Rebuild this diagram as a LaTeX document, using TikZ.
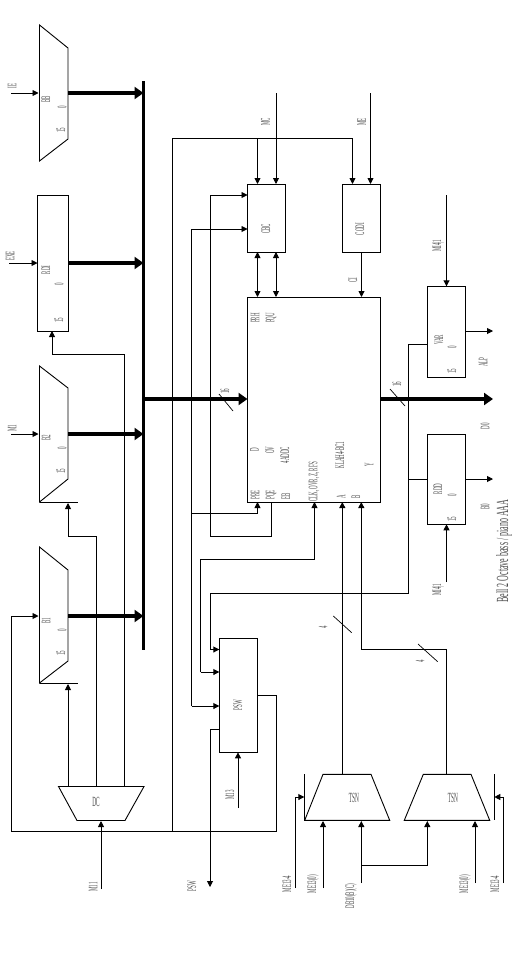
\documentclass[tikz,border=0pt]{standalone}
\usepackage{fontspec}
\setmainfont{Liberation Serif}
\usetikzlibrary{arrows.meta}
\newcommand{\nrw}[1]{\scalebox{0.38}[1]{#1}}
\tikzset{
  ln/.style={line width=0.9pt,line join=miter},
  arr/.style={ln,-{Triangle[length=6pt,width=6pt]}},
  darr/.style={ln,{Triangle[length=6pt,width=6pt]}-{Triangle[length=6pt,width=6pt]}},
  bus/.style={line width=3.4pt},
  busarr/.style={line width=3.2pt,-{Triangle[length=9pt,width=12pt,sep=0pt]}},
  slash/.style={line width=0.7pt},
  box/.style={draw,line width=0.9pt,inner sep=0pt,outer sep=0pt},
  rl/.style={rotate=90,inner sep=0pt,text=black!70,font=\fontsize{13}{13}\selectfont},
  ul/.style={inner sep=0pt,text=black!70,font=\fontsize{14}{14}\selectfont},
}
\begin{document}
\begin{tikzpicture}[x=1pt,y=-1pt]
\useasboundingbox (0,0) rectangle (521,959);
\fill[white] (0,0) rectangle (521,959);

% ---- bus
\coordinate (busT) at (143.5,81);
\coordinate (busB) at (143.5,650);
\draw[bus] (busT) -- (busB);

% ---- blocks
\node[box,minimum width=30.5pt,minimum height=136pt] (rdi) at (52.75,263) {};
\node[box,minimum width=38pt,minimum height=68pt] (cbc) at (266.5,218) {};
\node[box,minimum width=38pt,minimum height=68pt] (codi) at (361.5,218) {};
\node[box,minimum width=133pt,minimum height=205pt] (alu) at (314,399.5) {};
\node[box,minimum width=38.4pt,minimum height=91pt] (var) at (446.5,331.8) {};
\node[box,minimum width=38.4pt,minimum height=90pt] (rdd) at (446.5,479.3) {};
\node[box,minimum width=38pt,minimum height=114.3pt] (psw) at (238.3,695.2) {};

% ---- trapezoids
\draw[ln] (39.5,25) -- (68,48) -- (68,139) -- (39.5,161) -- cycle;
\draw[ln] (39.5,366) -- (68,388) -- (68,479) -- (39.5,502) -- cycle;
\draw[ln] (39.5,547) -- (68,570) -- (68,661) -- (39.5,683) -- cycle;
\draw[ln] (58.5,786.5) -- (144,786.5) -- (125,820.5) -- (77,820.5) -- cycle;
\draw[ln] (323,774.3) -- (371,774.3) -- (389.7,820.3) -- (304.7,820.3) -- cycle;
\draw[ln] (423.3,774.3) -- (471,774.3) -- (489.7,820.3) -- (404.3,820.3) -- cycle;

\coordinate (m1in) at (38.5,93);   \coordinate (m1out) at (68,93);
\coordinate (m2in) at (38.5,434);  \coordinate (m2out) at (68,434);
\coordinate (m3in) at (38.5,616);  \coordinate (m3out) at (68,616);
\coordinate (m2bar) at (78,502);   \coordinate (m2barL) at (39.5,502);
\coordinate (m3bar) at (78,683);   \coordinate (m3barL) at (39.5,683);
\coordinate (dcBot) at (101,821);
\coordinate (ts1Top) at (342.3,774.3);
\coordinate (ts2Top) at (446.3,774.3);
\coordinate (tick1T) at (304.3,774); \coordinate (tick1B) at (304.3,820.3);
\coordinate (tick2T) at (494.3,774); \coordinate (tick2B) at (494.3,820.3);

% ---- stubs on the muxes
\draw[ln] (m2barL) -- (m2bar);
\draw[ln] (m3barL) -- (m3bar);
\draw[ln] (tick1T) -- (tick1B);
\draw[ln] (tick2T) -- (tick2B);

% ---- inputs to registers
\coordinate (i1) at (11,93);
\coordinate (i2) at (9,263);
\coordinate (i3) at (11,434);
\draw[arr] (i1) -- (m1in);
\draw[arr] (i2) -- (rdi.west |- i2);
\draw[arr] (i3) -- (m2in);

% ---- bus connections
\draw[busarr] (m1out) -- (busT |- m1out);
\draw[busarr] (rdi.east |- i2) -- (busT |- i2);
\draw[busarr] (m2out) -- (busT |- m2out);
\draw[busarr] (m3out) -- (busT |- m3out);
\coordinate (busTap) at (143.5,399);
\draw[busarr] (busTap) -- (alu.west |- busTap);
\coordinate (aluOutEnd) at (493,399);
\draw[busarr] (alu.east |- aluOutEnd) -- (aluOutEnd);

% ---- decoder
\coordinate (dcIn) at (101,889);
\draw[arr] (dcIn) -- (dcBot);
\draw[arr] (68,786.5) -- (68,684);
\draw[ln] (96.5,786.5) -- (96.5,536) -- (68,536);
\draw[arr] (68,536) -- (68,503);
\draw[ln] (124.5,786.5) -- (124.5,354) -- (52,354);
\draw[arr] (52,354) -- (52,0 |- rdi.south);

% ---- PSW feedback loop to first mux
\draw[ln] (psw.east |- 0,695.5) -- (276,695.5) -- (276,831.5) -- (11.5,831.5) -- (11.5,616);
\draw[arr] (11.5,616) -- (m3in);

% ---- clock rail
\draw[ln] (172.5,831.5) -- (172.5,138.5) -- (352.5,138.5);
\draw[arr] (257.5,138.5) -- (257.5,0 |- cbc.north);
\draw[arr] (352.5,138.5) -- (352.5,0 |- codi.north);
\draw[arr] (276,93) -- (276,0 |- cbc.north);
\draw[arr] (370.5,93) -- (370.5,0 |- codi.north);

% ---- CBC / CODI to ALU
\draw[darr] (257.5,0 |- cbc.south) -- (257.5,0 |- alu.north);
\draw[darr] (276,0 |- cbc.south) -- (276,0 |- alu.north);
\draw[arr] (codi.south) -- (alu.north -| codi.south);

% ---- feedback to CBC and PSW
\draw[ln] (271.5,0 |- alu.south) -- (271.5,536) -- (210.5,536) -- (210.5,195);
\draw[arr] (210.5,195) -- (cbc.west |- 0,195);
\draw[ln] (191.5,706) -- (191.5,229);
\draw[arr] (191.5,229) -- (cbc.west |- 0,229);
\draw[arr] (191.5,706) -- (psw.west |- 0,706);
\draw[ln] (191.5,513) -- (257.5,513);
\draw[arr] (257.5,513) -- (257.5,0 |- alu.south);

% ---- flags
\draw[ln] (200.5,672) -- (200.5,559.5) -- (314.5,559.5);
\draw[arr] (200.5,672) -- (psw.west |- 0,672);
\draw[arr] (314.5,559.5) -- (314.5,0 |- alu.south);

% ---- VAR / RDD bus
\draw[ln] (var.west |- 0,344) -- (408.5,344) -- (408.5,593) -- (210.5,593) -- (210.5,649.5);
\draw[arr] (210.5,649.5) -- (psw.west |- 0,649.5);
\draw[ln] (408.5,479) -- (rdd.west |- 0,479);
\draw[arr] (446.5,195) -- (446.5,0 |- var.north);
\draw[arr] (446.5,582) -- (446.5,0 |- rdd.south);
\draw[arr] (var.east |- 0,331) -- (493,331);
\draw[arr] (rdd.east |- 0,479) -- (493,479);

% ---- TSN to ALU
\draw[arr] (ts1Top) -- (342.3,0 |- alu.south);
\draw[ln] (ts2Top) -- (446.3,649) -- (361.3,649);
\draw[arr] (361.3,649) -- (361.3,0 |- alu.south);

% ---- PSW out and M13
\draw[ln] (psw.west |- 0,729) -- (210,729);
\draw[arr] (210,729) -- (210,887);
\draw[arr] (238,808) -- (238,0 |- psw.south);

% ---- TSN inputs
\draw[ln] (295,888) -- (295,797);
\draw[arr] (295,797) -- (tick1T |- 0,797);
\draw[arr] (323,888) -- (323,821);
\draw[arr] (361.3,883) -- (361.3,821);
\draw[ln] (361.3,865.7) -- (427.3,865.7);
\draw[arr] (427.3,865.7) -- (427.3,821);
\draw[arr] (475,883) -- (475,821);
\draw[ln] (503.3,883) -- (503.3,797);
\draw[arr] (503.3,797) -- (tick2T |- 0,797);

% ---- bus-width slashes
\draw[slash] (219,394) -- (233,411);
\draw[slash] (390,389) -- (405,406);
\draw[slash] (333.3,616) -- (351.7,632.7);
\draw[slash] (418,644) -- (437.7,661.7);

% ---- labels: registers
\node[rl] (lI) at (46,99) {\nrw{BB}};
\node[rl] (l1a) at (62,107) {\nrw{0}};
\node[rl] (l1b) at (61,130) {\nrw{15}};
\node[rl] (l1c) at (12,86) {\nrw{IE}};
\node[rl] (l2) at (46,270) {\nrw{RDI}};
\node[rl] (l2a) at (59,284) {\nrw{0}};
\node[rl] (l2b) at (59,320) {\nrw{15}};
\node[rl] (l2c) at (10,256) {\nrw{EXE}};
\node[rl] (l3) at (46,438) {\nrw{B2}};
\node[rl] (l3a) at (62,448) {\nrw{0}};
\node[rl] (l3b) at (61,471) {\nrw{15}};
\node[rl] (l3c) at (12,428) {\nrw{M1}};
\node[rl] (l4) at (46,621) {\nrw{B1}};
\node[rl] (l4a) at (62,630) {\nrw{0}};
\node[rl] (l4b) at (61,653) {\nrw{15}};
\node[ul] (ldc) at (96,802) {\nrw{DC}};
\node[rl] (lm11) at (93,887) {\nrw{M11}};

% ---- labels: top
\node[rl] (lmc) at (265.5,122) {\nrw{MC}};
\node[rl] (lme) at (361.5,122) {\nrw{ME}};
\node[rl] (lcbc) at (266,229) {\nrw{CBC}};
\node[rl] (lcodi) at (360,229) {\nrw{CODI}};
\node[rl] (lci) at (353,280) {\nrw{CI}};

% ---- labels: ALU
\node[rl] (a1) at (255,318) {\nrw{PRH}};
\node[rl] (a2) at (271,318) {\nrw{PQU}};
\node[rl] (a3) at (254.5,450) {\nrw{D}};
\node[rl] (a4) at (270,450) {\nrw{OV}};
\node[rl] (a5) at (285,455) {\nrw{4ADDC}};
\node[rl] (a6) at (255,495) {\nrw{PRE}};
\node[rl] (a7) at (271,495) {\nrw{PQE}};
\node[rl] (a8) at (286,496) {\nrw{EB}};
\node[rl] (a9) at (314,482) {\nrw{CLK, OVR, Z, RFS}};
\node[rl] (a10) at (341,497) {\nrw{A}};
\node[rl] (a11) at (356,497) {\nrw{B}};
\node[rl] (a12) at (340,455) {\nrw{KLAH4-BC1}};
\node[rl] (a13) at (369,465) {\nrw{Y}};
\node[rl] (w1) at (225,391) {\nrw{16}};
\node[rl] (w2) at (397,384) {\nrw{16}};
\node[rl] (w3) at (323,627) {\nrw{4}};
\node[rl] (w4) at (420,661) {\nrw{4}};

% ---- labels: right
\node[rl] (r1) at (438,246) {\nrw{MI4|1}};
\node[rl] (r2) at (439,340) {\nrw{VAR}};
\node[rl] (r3) at (452,347) {\nrw{0}};
\node[rl] (r4) at (452,371) {\nrw{15}};
\node[rl] (r5) at (483,362) {\nrw{ALP}};
\node[rl] (r6) at (485,426) {\nrw{D0}};
\node[rl] (r7) at (485,507) {\nrw{B0}};
\node[rl] (r8) at (438,489) {\nrw{RDD}};
\node[rl] (r9) at (452,495) {\nrw{0}};
\node[rl] (r10) at (452,519) {\nrw{15}};
\node[rl] (r11) at (438,590) {\nrw{MI4|1}};
\node[rl,font=\fontsize{17}{17}\selectfont] (cap) at (504,551) {\scalebox{0.47}[1]{Bell 2 Octave bass / piano AAA}};

% ---- labels: bottom
\node[rl] (p1) at (238,705) {\nrw{PSW}};
\node[rl] (p2) at (230,795) {\nrw{M13}};
\node[rl] (p3) at (192,886) {\nrw{PSW}};
\node[ul] (t1) at (354,798) {\nrw{TSN}};
\node[ul] (t2) at (453,798) {\nrw{TSN}};
\node[rl] (b1) at (287,884) {\nrw{ME13-4}};
\node[rl] (b2) at (313,884) {\nrw{ME13(0)}};
\node[rl] (b3) at (351,896) {\nrw{DB10(B)(C)}};
\node[rl] (b4) at (465,884) {\nrw{ME13(0)}};
\node[rl] (b5) at (495,884) {\nrw{ME13-4}};
\end{tikzpicture}
\end{document}
